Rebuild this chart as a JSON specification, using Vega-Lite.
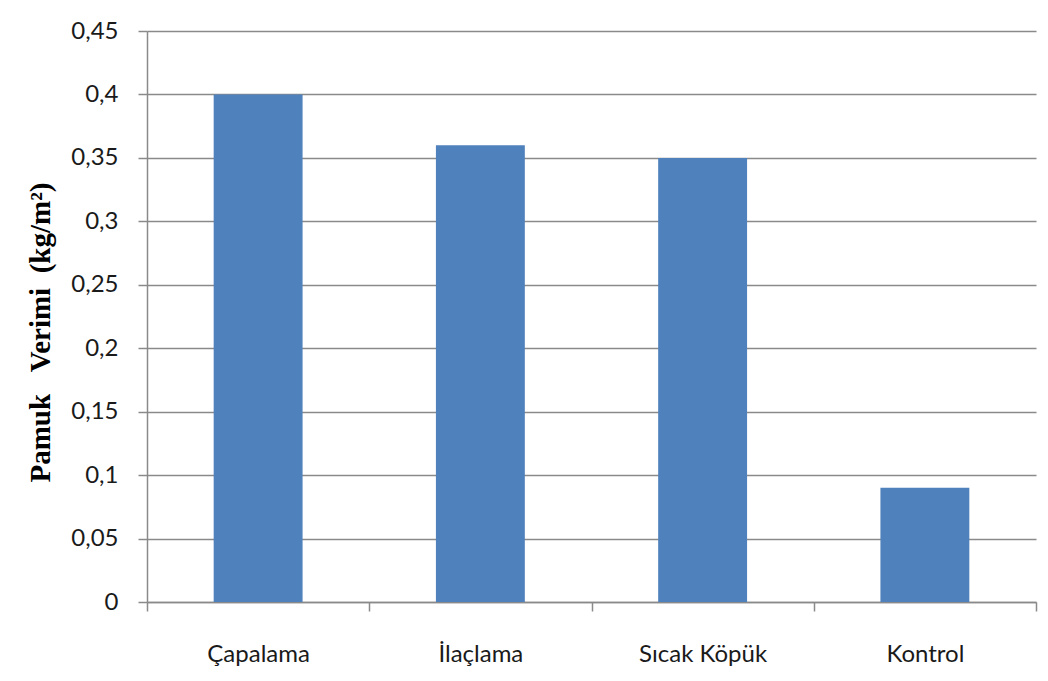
{
  "$schema": "https://vega.github.io/schema/vega-lite/v6.json",
  "width": 889,
  "height": 571,
  "autosize": {"type": "none"},
  "padding": {"left": 147, "top": 31, "right": 12, "bottom": 79},
  "background": "white",
  "config": {
    "locale": {"number": {"decimal": ",", "thousands": ".", "grouping": [3], "currency": ["", ""]}},
    "view": {"stroke": null},
    "axis": {
      "labelFont": "Lato",
      "labelFontSize": 24,
      "labelColor": "#1a1a1a",
      "domainColor": "#8a8a8a",
      "domainWidth": 1.5,
      "tickColor": "#8a8a8a",
      "tickWidth": 1.5,
      "tickSize": 9,
      "gridColor": "#8a8a8a",
      "gridWidth": 1.5,
      "gridOpacity": 1
    }
  },
  "data": {
    "values": [
      {"yontem": "Çapalama", "verim": 0.4},
      {"yontem": "İlaçlama", "verim": 0.36},
      {"yontem": "Sıcak Köpük", "verim": 0.35},
      {"yontem": "Kontrol", "verim": 0.09}
    ]
  },
  "mark": {"type": "bar", "color": "#4F81BD", "width": {"band": 0.4}},
  "encoding": {
    "x": {
      "field": "yontem",
      "type": "nominal",
      "sort": null,
      "scale": {"paddingInner": 0, "paddingOuter": 0},
      "axis": {
        "title": null,
        "labelAngle": 0,
        "labelPadding": 31,
        "tickBand": "extent",
        "grid": false
      }
    },
    "y": {
      "field": "verim",
      "type": "quantitative",
      "scale": {"domain": [0, 0.45], "nice": false},
      "axis": {
        "values": [0, 0.05, 0.1, 0.15, 0.2, 0.25, 0.3, 0.35, 0.4, 0.45],
        "format": ".2~f",
        "labelPadding": 20,
        "title": "Pamuk\u00a0\u00a0\u00a0Verimi\u00a0\u00a0(kg/m²)",
        "titleFont": "Liberation Serif",
        "titleFontWeight": "bold",
        "titleFontSize": 29,
        "titleColor": "#000000",
        "titleX": -107,
        "titleY": 301,
        "titleAngle": -90,
        "titleAlign": "center",
        "titleBaseline": "middle"
      }
    }
  }
}
